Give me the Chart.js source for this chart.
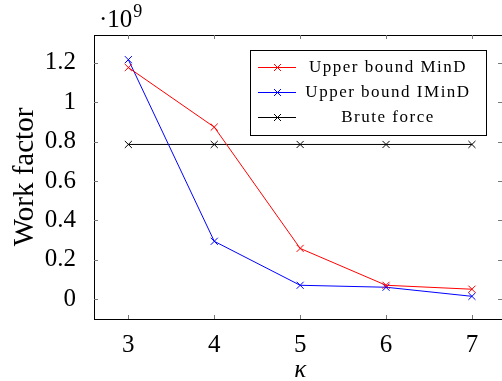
<!DOCTYPE html>
<html><head><meta charset="utf-8">
<script src="https://cdn.jsdelivr.net/npm/chart.js@4"></script>
<style>html,body{margin:0;padding:0;background:#fff}#w{width:502px;height:381px}</style>
</head><body><div id="w"><canvas id="c"></canvas></div>
<script>
const kappa = [3, 4, 5, 6, 7];
const upperMinD = [1.175, 0.873, 0.258, 0.071, 0.051];
const upperIMinD = [1.215, 0.294, 0.071, 0.061, 0.015];
const bruteForce = [0.785, 0.785, 0.785, 0.785, 0.785];
const yTicks = [0, 0.2, 0.4, 0.6, 0.8, 1, 1.2];
const seriesNames = ['Upper bound MinD', 'Upper bound IMinD', 'Brute force'];
const seriesColors = ['#ff0000', '#0000ff', '#000000'];
const exponentLabel = '9';
const xTitle = 'κ';
const FONT = '"Liberation Serif", "DejaVu Serif", serif';

function pts(arr){ return kappa.map((k,i)=>({x:k,y:arr[i]})); }
const seriesData = [upperMinD, upperIMinD, bruteForce];

const framePlugin = {
  id:'frame',
  afterDraw(chart){
    const {ctx, chartArea:a, scales:{x,y}} = chart;
    ctx.save();
    ctx.strokeStyle='#000'; ctx.lineWidth=1;
    ctx.strokeRect(Math.round(a.left)+0.5, Math.round(a.top)+0.5, Math.round(a.right-a.left)+2, Math.round(a.bottom-a.top));
    ctx.strokeStyle='#777';
    const tl=4;
    kappa.forEach(k=>{
      const px=Math.round(x.getPixelForValue(k))+0.5;
      ctx.beginPath(); ctx.moveTo(px,a.bottom); ctx.lineTo(px,a.bottom-tl);
      ctx.moveTo(px,a.top); ctx.lineTo(px,a.top+tl); ctx.stroke();
    });
    yTicks.forEach(v=>{
      const py=Math.round(y.getPixelForValue(v))+0.5;
      ctx.beginPath(); ctx.moveTo(a.left,py); ctx.lineTo(a.left+tl,py);
      ctx.moveTo(a.right,py); ctx.lineTo(a.right-tl,py); ctx.stroke();
    });
    // exponent label
    ctx.fillStyle='#000';
    ctx.textBaseline='alphabetic'; ctx.textAlign='left';
    ctx.font='25px '+FONT;
    ctx.fillText('\u00B710', 99, 27);
    const w=ctx.measureText('\u00B710').width;
    ctx.font='18px '+FONT;
    ctx.fillText(exponentLabel, 99+w+1, 17);
    // x-axis title
    ctx.textAlign='center';
    ctx.font='italic 25px '+FONT;
    ctx.fillText(xTitle, x.getPixelForValue(5), 377);
    // legend
    const lx=250, ly=50, lw=236, lh=85;
    ctx.fillStyle='#fff'; ctx.fillRect(lx,ly,lw,lh);
    ctx.strokeStyle='#000'; ctx.lineWidth=1;
    ctx.strokeRect(lx+0.5,ly+0.5,lw,lh);
    ctx.font='17px '+FONT; ctx.textBaseline='middle';
    seriesNames.forEach((n,i)=>{
      const cy=ly+17+i*25;
      ctx.strokeStyle=seriesColors[i];
      ctx.beginPath(); ctx.moveTo(lx+8,cy+0.5); ctx.lineTo(lx+46,cy+0.5); ctx.stroke();
      const mx=lx+27.5, r=3.5;
      ctx.beginPath(); ctx.moveTo(mx-r,cy-r+0.5); ctx.lineTo(mx+r,cy+r+0.5); ctx.moveTo(mx-r,cy+r+0.5); ctx.lineTo(mx+r,cy-r+0.5); ctx.stroke();
      ctx.fillStyle='#000'; ctx.textAlign='center';
      ctx.letterSpacing='1.5px';
      ctx.fillText(n, lx+138, cy+1);
    });
    ctx.restore();
  }
};

new Chart(document.getElementById('c'), {
  type:'line',
  data:{ datasets: seriesNames.map((n,i)=>({
    label:n, data:pts(seriesData[i]), borderColor:seriesColors[i], backgroundColor:seriesColors[i],
    borderWidth:1, pointStyle:'crossRot', pointRadius:5, pointBorderWidth:1, pointHoverRadius:5, tension:0
  }))},
  options:{
    responsive:true, maintainAspectRatio:false, animation:false,
    layout:{autoPadding:false, padding:{top:35,right:0,left:0,bottom:0}},
    plugins:{legend:{display:false}, tooltip:{enabled:false}},
    scales:{
      x:{type:'linear', min:2.6, max:7.35,
        afterBuildTicks(s){ s.ticks = kappa.map(v=>({value:v})); },
        afterFit(s){ s.height=62; },
        grid:{display:false}, border:{display:false},
        ticks:{color:'#000', font:{family:FONT,size:25}, padding:3, maxRotation:0, autoSkip:false,
          callback:v=>String(v)},
        title:{display:false}
      },
      y:{type:'linear', min:-0.1, max:1.34,
        afterBuildTicks(s){ s.ticks = yTicks.map(v=>({value:v})); },
        afterFit(s){ s.width=94; },
        grid:{display:false}, border:{display:false},
        ticks:{color:'#000', font:{family:FONT,size:25}, padding:10, autoSkip:false,
          callback:v=>String(+v.toFixed(1))},
        title:{display:true, text:'Work factor', color:'#000', font:{family:FONT,size:29}, padding:{top:8,bottom:0}}
      }
    }
  },
  plugins:[framePlugin]
});
</script></body></html>
